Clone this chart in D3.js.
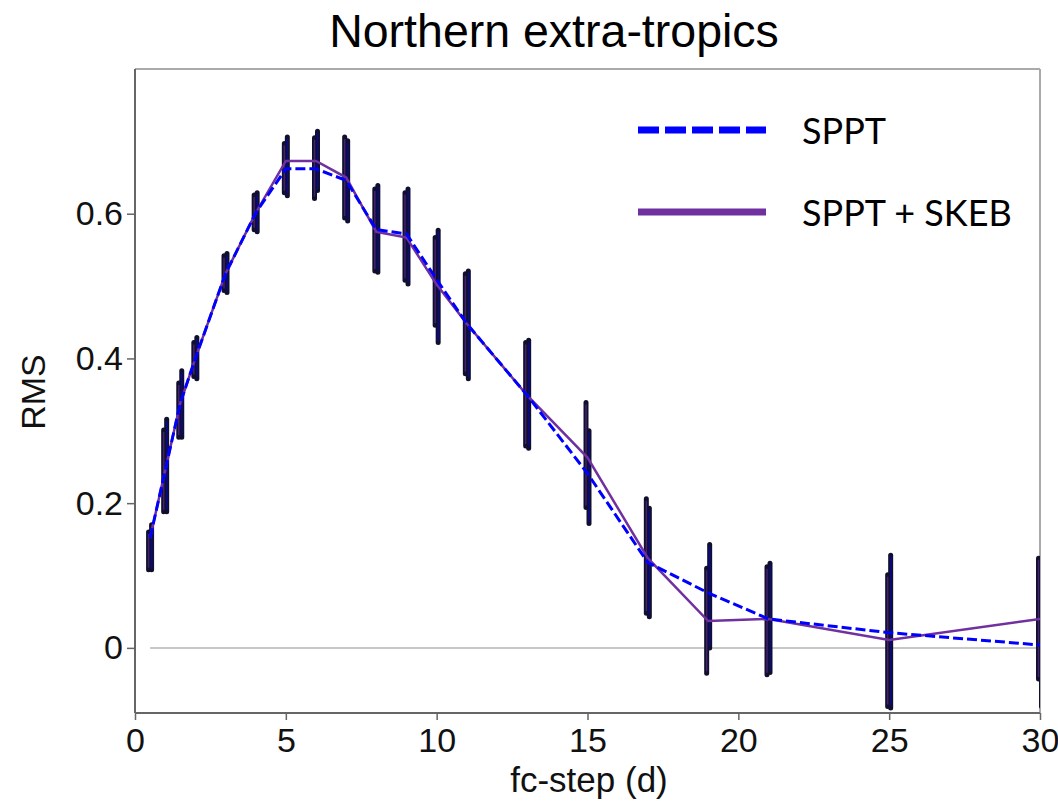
<!DOCTYPE html>
<html>
<head>
<meta charset="utf-8">
<script src="https://cdn.jsdelivr.net/npm/d3@7"></script>
<style>
  body { margin: 0; background: #fff; }
  svg { display: block; }
</style>
</head>
<body>
<div id="chart"></div>
<script>
const steps = [0.5, 1, 1.5, 2, 3, 4, 5, 6, 7, 8, 9, 10, 11, 13, 15, 17, 19, 21, 25, 30];

const spptMean = [0.152, 0.245, 0.338, 0.4, 0.517, 0.601, 0.662, 0.662, 0.646, 0.578, 0.572, 0.509, 0.448, 0.349, 0.241, 0.118, 0.076, 0.04, 0.021, 0.004];
const spptLo = [0.108, 0.188, 0.291, 0.372, 0.491, 0.575, 0.625, 0.632, 0.59, 0.519, 0.503, 0.422, 0.372, 0.276, 0.172, 0.043, 0.0, -0.034, -0.083, -0.081];
const spptHi = [0.17, 0.316, 0.383, 0.429, 0.545, 0.629, 0.706, 0.714, 0.701, 0.639, 0.634, 0.577, 0.521, 0.425, 0.3, 0.193, 0.143, 0.117, 0.128, 0.09];

const skebMean = [0.152, 0.245, 0.338, 0.4, 0.517, 0.601, 0.673, 0.673, 0.65, 0.575, 0.567, 0.502, 0.448, 0.349, 0.263, 0.124, 0.037, 0.04, 0.011, 0.04];
const skebLo = [0.108, 0.188, 0.291, 0.375, 0.494, 0.578, 0.629, 0.621, 0.594, 0.521, 0.508, 0.446, 0.379, 0.279, 0.194, 0.048, -0.035, -0.037, -0.081, -0.043];
const skebHi = [0.16, 0.301, 0.366, 0.422, 0.542, 0.626, 0.697, 0.705, 0.706, 0.634, 0.629, 0.567, 0.517, 0.422, 0.339, 0.206, 0.11, 0.112, 0.101, 0.124];

const xTicks = [0, 5, 10, 15, 20, 25, 30];
const yTicks = [0, 0.2, 0.4, 0.6];

const seriesNames = ["SPPT", "SPPT + SKEB"];
const titleText = "Northern extra-tropics";
const xLabel = "fc-step (d)";
const yLabel = "RMS";

const width = 1058,
  height = 805,
  margin = { top: 69, right: 18, bottom: 92, left: 135 },
  innerW = width - margin.left - margin.right,
  innerH = height - margin.top - margin.bottom,
  axisFont = "'Liberation Sans', Arial, Helvetica, sans-serif",
  legendFont = "Lato, 'Open Sans', sans-serif",
  blue = "#0000ff",
  purple = "#7030a0",
  barColor = "#10102e";

const x = d3.scaleLinear().domain([0, 30]).range([0, innerW]);
const y = d3.scaleLinear().domain([-0.09, 0.8]).range([innerH, 0]);

const svg = d3
  .select("#chart")
  .append("svg")
  .attr("width", width)
  .attr("height", height);

svg
  .append("text")
  .attr("x", 554)
  .attr("y", 47)
  .attr("text-anchor", "middle")
  .attr("font-family", axisFont)
  .attr("font-size", 46.5)
  .text(titleText);

const g = svg
  .append("g")
  .attr("transform", "translate(" + margin.left + "," + margin.top + ")");

g.append("defs")
  .append("clipPath")
  .attr("id", "plot-clip")
  .append("rect")
  .attr("x", -10)
  .attr("y", -10)
  .attr("width", innerW + 10)
  .attr("height", innerH + 10);

// frame: light top/right, dark left/bottom
g.append("line")
  .attr("x1", 0)
  .attr("x2", innerW)
  .attr("y1", 0)
  .attr("y2", 0)
  .attr("stroke", "#aaa")
  .attr("stroke-width", 2);
g.append("line")
  .attr("x1", innerW)
  .attr("x2", innerW)
  .attr("y1", 0)
  .attr("y2", innerH)
  .attr("stroke", "#aaa")
  .attr("stroke-width", 2);

// zero reference line
g.append("line")
  .attr("x1", x(0.5))
  .attr("x2", innerW)
  .attr("y1", y(0))
  .attr("y2", y(0))
  .attr("stroke", "#b4b4b4")
  .attr("stroke-width", 1.5);

const xAxis = g
  .append("g")
  .attr("transform", "translate(0," + innerH + ")")
  .call(d3.axisBottom(x).tickValues(xTicks).tickSize(7).tickPadding(8).tickFormat(d3.format("d")));
const yAxis = g
  .append("g")
  .call(d3.axisLeft(y).tickValues(yTicks).tickSize(8).tickPadding(4).tickFormat((d) => (d === 0 ? "0" : d3.format(".1f")(d))));

[xAxis, yAxis].forEach((ax) => {
  ax.select(".domain").attr("stroke", "#666").attr("stroke-width", 2);
  ax.selectAll(".tick line").attr("stroke", "#666").attr("stroke-width", 1.5);
  ax.selectAll(".tick text")
    .attr("font-family", axisFont)
    .attr("font-size", 34)
    .attr("fill", "#111");
});
yAxis.select(".domain").attr("d", "M0," + innerH + "V0");
xAxis.select(".domain").attr("d", "M0,0H" + innerW);

svg
  .append("text")
  .attr("x", 589)
  .attr("y", 792)
  .attr("text-anchor", "middle")
  .attr("font-family", axisFont)
  .attr("font-size", 35)
  .attr("fill", "#111")
  .text(xLabel);

svg
  .append("text")
  .attr("transform", "translate(45,392) rotate(-90)")
  .attr("text-anchor", "middle")
  .attr("font-family", axisFont)
  .attr("font-size", 34)
  .attr("fill", "#111")
  .text(yLabel);

const plot = g.append("g").attr("clip-path", "url(#plot-clip)");

const series = [
  { name: seriesNames[0], mean: spptMean, lo: spptLo, hi: spptHi, color: blue, dash: "10,4", width: 3, shift: 1.5 },
  { name: seriesNames[1], mean: skebMean, lo: skebLo, hi: skebHi, color: purple, dash: null, width: 2.5, shift: -1.5 },
];

// error bars first, then mean lines on top
series.forEach((s) => {
  const bars = plot.append("g");
  steps.forEach((st, i) => {
    const bx = x(st) + s.shift;
    bars
      .append("line")
      .attr("x1", bx)
      .attr("x2", bx)
      .attr("y1", y(s.lo[i]))
      .attr("y2", y(s.hi[i]))
      .attr("stroke", barColor)
      .attr("stroke-width", 5)
      .attr("stroke-linecap", "round");
    bars
      .append("line")
      .attr("x1", bx)
      .attr("x2", bx)
      .attr("y1", y(s.lo[i]) - 2)
      .attr("y2", y(s.hi[i]) + 2)
      .attr("stroke", s.color)
      .attr("stroke-opacity", 0.55)
      .attr("stroke-width", 1.5);
  });
});

const line = d3
  .line()
  .x((d) => x(d[0]))
  .y((d) => y(d[1]));

series
  .slice()
  .reverse()
  .forEach((s) => {
    plot
      .append("path")
      .datum(steps.map((st, i) => [st, s.mean[i]]))
      .attr("d", line)
      .attr("fill", "none")
      .attr("stroke", s.color)
      .attr("stroke-width", s.width)
      .attr("stroke-dasharray", s.dash);
  });

// legend
const legend = svg.append("g");
series.forEach((s, i) => {
  const ly = 130 + i * 82;
  legend
    .append("line")
    .attr("x1", 638)
    .attr("x2", 766)
    .attr("y1", ly)
    .attr("y2", ly)
    .attr("stroke", s.color)
    .attr("stroke-width", 7)
    .attr("stroke-dasharray", s.dash ? "21,6" : null);
  legend
    .append("text")
    .attr("x", 802)
    .attr("y", ly + 14)
    .attr("font-family", legendFont)
    .attr("font-size", 36)
    .attr("fill", "#000")
    .text(s.name);
});
</script>
</body>
</html>
